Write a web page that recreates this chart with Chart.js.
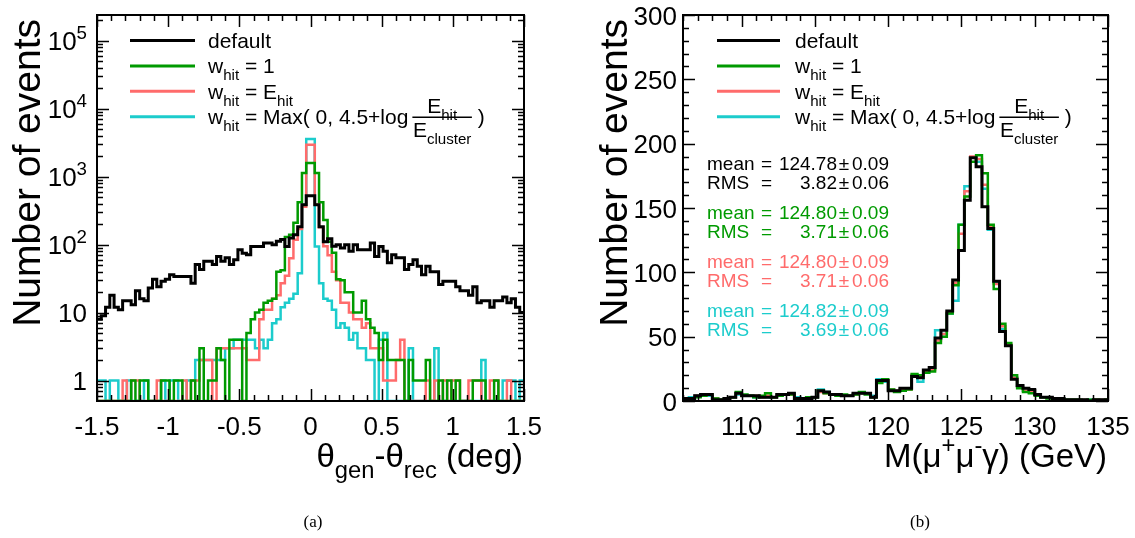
<!DOCTYPE html>
<html>
<head>
<meta charset="utf-8">
<script src="https://cdn.jsdelivr.net/npm/chart.js@4.4.1/dist/chart.umd.min.js"></script>
<style>
  body { margin: 0; background: #fff; }
  #wrap { position: relative; width: 1135px; height: 538px; }
  #wrap canvas { position: absolute; left: 0; top: 0; }
</style>
</head>
<body>
<div id="wrap">
  <canvas id="angle" width="1135" height="538"></canvas>
  <canvas id="mass" width="1135" height="538"></canvas>
</div>
<script>
// ---- panel (a): theta_gen - theta_rec, 100 bins of 0.03 deg from -1.5 ----
const angleLo = -1.5;
const angleBin = 0.03;
const angleDefault = [
  8, 9, 12, 18, 12, 11, 15, 15, 13, 21,
  16, 15, 23, 31, 24, 29, 31, 36, 34, 34,
  34, 34, 27, 51, 43, 57, 57, 51, 67, 57,
  64, 51, 60, 84, 75, 71, 94, 94, 94, 106,
  106, 100, 112, 119, 94, 125, 140, 183, 388, 525,
  525, 388, 183, 110, 122, 95, 100, 89, 100, 80,
  100, 84, 84, 84, 106, 67, 94, 80, 54, 71,
  64, 64, 43, 51, 60, 48, 36, 48, 40, 40,
  26, 29, 29, 29, 24, 21, 21, 18, 24, 14,
  15, 15, 12, 15, 15, 17, 14, 16, 12, 10
];
const angleUnitWeight = [
  0, 0, 0, 0, 0, 0, 0, 0, 1, 0,
  1, 1, 0, 0, 0, 1, 1, 0, 1, 1,
  0, 0, 1, 0, 3, 0, 1, 1, 3, 2,
  0, 4, 4, 4, 0, 5, 8, 10, 11, 14,
  15, 16, 40, 42, 130, 140, 210, 420, 1130, 1590,
  1590, 1130, 420, 230, 110, 76, 31, 30, 20, 20,
  10, 10, 15, 8, 6, 5, 2, 4, 2, 2,
  2, 2, 0, 2, 1, 1, 1, 2, 0, 0,
  1, 0, 1, 0, 1, 0, 0, 0, 1, 1,
  1, 0, 0, 1, 0, 0, 0, 0, 0, 0
];
const angleEnergyWeight = [
  0, 0, 0, 0, 0, 0, 1, 0, 1, 1,
  0, 0, 0, 0, 1, 0, 0, 0, 0, 0,
  1, 0, 1, 1, 2, 2, 2, 0, 3, 3,
  3, 3, 3, 3, 3, 2, 2, 2, 8, 11,
  11, 16, 18, 27, 35, 63, 118, 170, 360, 2960,
  2960, 390, 180, 95, 70, 40, 30, 14, 14, 10,
  8, 8, 6, 7, 3, 3, 3, 1, 1, 1,
  2, 4, 0, 0, 0, 0, 0, 1, 0, 1,
  0, 1, 0, 1, 1, 0, 0, 1, 1, 1,
  0, 0, 1, 1, 0, 0, 1, 0, 0, 0
];
const angleLogWeight = [
  1, 1, 0, 1, 1, 0, 0, 1, 0, 0,
  0, 1, 0, 0, 0, 1, 0, 1, 1, 0,
  0, 1, 1, 2, 2, 2, 2, 2, 2, 2,
  3, 3, 4, 4, 4, 4, 4, 3, 4, 3,
  4, 7, 8, 12, 14, 16, 19, 38, 388, 3585,
  3585, 94, 27, 16, 15, 11, 6, 7, 6, 4,
  5, 3, 3, 2, 2, 0, 4, 5, 0, 0,
  0, 0, 0, 3, 0, 0, 0, 0, 0, 3,
  0, 0, 0, 0, 0, 0, 0, 0, 0, 0,
  2, 0, 0, 0, 0, 1, 1, 1, 0, 1
];
const angleXTicks = [-1.5, -1, -0.5, 0, 0.5, 1, 1.5];
const angleXTickLabels = ['-1.5', '-1', '-0.5', '0', '0.5', '1', '1.5'];
const angleYTicks = [1, 10, 100, 1000, 10000, 100000];
const angleYTickLabels = ['1', '10', '10^{2}', '10^{3}', '10^{4}', '10^{5}'];

// ---- panel (b): M(mu mu gamma), bins of 0.4 GeV from 106 ----
const massLo = 106.0;
const massBin = 0.4;
const massDefault = [
  2, 2, 4, 5, 5, 1, 1, 2, 3, 6,
  4, 4, 4, 3, 3, 3, 5, 5, 6, 2,
  2, 2, 3, 8, 7, 5, 5, 4, 4, 6,
  6, 6, 3, 16, 16, 8, 8, 10, 10, 19,
  18, 24, 26, 49, 55, 70, 94, 117, 156, 189,
  182, 151, 134, 93, 54, 43, 17, 12, 10, 9,
  5, 3, 3, 2, 2, 1, 1, 1, 1, 0,
  1, 1, 1
];
const massUnitWeight = [
  1, 2, 3, 4, 5, 2, 1, 2, 3, 7,
  5, 4, 3, 4, 6, 3, 4, 5, 5, 2,
  2, 3, 3, 8, 6, 5, 4, 5, 4, 5,
  7, 5, 3, 14, 17, 9, 7, 8, 9, 21,
  20, 22, 23, 45, 50, 68, 90, 137, 159, 186,
  191, 177, 137, 87, 60, 45, 20, 10, 7, 6,
  4, 3, 2, 2, 1, 1, 1, 1, 0, 1,
  1, 0, 1
];
const massEnergyWeight = [
  2, 2, 4, 4, 5, 2, 1, 2, 3, 6,
  4, 4, 4, 3, 4, 3, 5, 5, 5, 2,
  2, 2, 3, 7, 6, 5, 5, 4, 4, 5,
  6, 6, 3, 15, 16, 9, 8, 9, 9, 20,
  19, 23, 24, 47, 52, 69, 92, 130, 163, 190,
  188, 168, 136, 91, 58, 44, 18, 11, 8, 7,
  4, 3, 3, 2, 1, 1, 1, 1, 1, 0,
  1, 1, 1
];
const massLogWeight = [
  2, 3, 4, 5, 4, 2, 1, 2, 3, 5,
  4, 4, 3, 3, 3, 3, 5, 5, 6, 3,
  2, 2, 3, 9, 7, 5, 5, 4, 4, 5,
  6, 6, 4, 17, 15, 9, 8, 9, 10, 20,
  15, 22, 25, 55, 52, 68, 78, 137, 167, 189,
  186, 165, 133, 92, 56, 43, 18, 11, 8, 7,
  5, 3, 3, 2, 2, 1, 1, 1, 1, 1,
  0, 1, 1
];
const massXTicks = [110, 115, 120, 125, 130, 135];
const massXTickLabels = ['110', '115', '120', '125', '130', '135'];
const massYTicks = [0, 50, 100, 150, 200, 250, 300];
const massYTickLabels = ['0', '50', '100', '150', '200', '250', '300'];

const statMeans = ['124.78', '124.80', '124.80', '124.82'];
const statMeanErrs = ['0.09', '0.09', '0.09', '0.09'];
const statRms = ['3.82', '3.71', '3.71', '3.69'];
const statRmsErrs = ['0.06', '0.06', '0.06', '0.06'];

const seriesLabels = [
  'default',
  'w_{hit} = 1',
  'w_{hit} = E_{hit}',
  'w_{hit} = Max( 0, 4.5+log [E_{hit}/E_{cluster}] )'
];
const seriesColors = ['#000000', '#009a00', '#ff6b6b', '#1ccccc'];

// ---------------------------------------------------------------
const FAMILY = '"Liberation Sans", Arial, Helvetica, sans-serif';
const fnt = (size) => size + 'px ' + FAMILY;

function parseRich(s) {
  const parts = [];
  let buf = '';
  let i = 0;
  while (i < s.length) {
    if ((s[i] === '_' || s[i] === '^') && s[i + 1] === '{') {
      if (buf) { parts.push([buf, 'n']); buf = ''; }
      const end = s.indexOf('}', i);
      parts.push([s.slice(i + 2, end), s[i] === '_' ? 'sub' : 'sup']);
      i = end + 1;
    } else {
      buf += s[i++];
    }
  }
  if (buf) parts.push([buf, 'n']);
  return parts;
}

function richWidth(ctx, parts, size) {
  let w = 0;
  for (const [t, k] of parts) {
    ctx.font = fnt(k === 'n' ? size : size * 0.72);
    w += ctx.measureText(t).width;
  }
  return w;
}

function drawRich(ctx, s, x, y, size, align) {
  const parts = parseRich(s);
  const w = richWidth(ctx, parts, size);
  if (align === 'right') x -= w;
  else if (align === 'center') x -= w / 2;
  ctx.textAlign = 'left';
  ctx.textBaseline = 'alphabetic';
  for (const [t, k] of parts) {
    const sz = k === 'n' ? size : size * 0.72;
    ctx.font = fnt(sz);
    const dy = k === 'sub' ? size * 0.33 : (k === 'sup' ? -size * 0.42 : 0);
    ctx.fillText(t, x, y + dy);
    x += ctx.measureText(t).width;
  }
  return x;
}

function histPoints(lo, width, counts, floor) {
  const pts = counts.map((c, i) => ({x: lo + i * width, y: Math.max(c, floor)}));
  pts.push({x: lo + counts.length * width, y: Math.max(counts[counts.length - 1], floor)});
  return pts;
}

function drawLegendRow(ctx, label, color, lineX0, lineX1, textX, rowY) {
  ctx.strokeStyle = color;
  ctx.lineWidth = 3;
  ctx.beginPath();
  ctx.moveTo(lineX0, rowY);
  ctx.lineTo(lineX1, rowY);
  ctx.stroke();
  ctx.fillStyle = '#000';
  const base = rowY + 7.5;
  const m = label.match(/^(.*)\[(.*?)\/(.*?)\](.*)$/);
  if (!m) {
    drawRich(ctx, label, textX, base, 21, 'left');
    return;
  }
  let x = drawRich(ctx, m[1].trimEnd(), textX, base, 21, 'left') + 4;
  const numW = richWidth(ctx, parseRich(m[2]), 21);
  const denW = richWidth(ctx, parseRich(m[3]), 21);
  const barW = Math.max(numW, denW) + 1;
  const barY = rowY + 0.5;
  ctx.strokeStyle = '#000';
  ctx.lineWidth = 1.5;
  ctx.beginPath();
  ctx.moveTo(x, barY);
  ctx.lineTo(x + barW, barY);
  ctx.stroke();
  drawRich(ctx, m[2], x + barW / 2, barY - 4.5, 21, 'center');
  drawRich(ctx, m[3], x + barW / 2, barY + 20, 21, 'center');
  drawRich(ctx, m[4], x + barW, base, 21, 'left');
}

function panelPlugin(cfg) {
  return {
    id: 'panel' + cfg.id,
    afterDraw(chart) {
      const {ctx, chartArea: a, scales} = chart;
      const xs = scales.x, ys = scales.y;
      ctx.save();

      // ticks on all four sides, pointing inwards
      ctx.strokeStyle = '#000';
      ctx.lineWidth = 1.5;
      ctx.beginPath();
      const xTick = (v, len) => {
        const px = Math.round(xs.getPixelForValue(v)) + 0.5;
        ctx.moveTo(px, a.bottom); ctx.lineTo(px, a.bottom - len);
        ctx.moveTo(px, a.top); ctx.lineTo(px, a.top + len);
      };
      const yTick = (v, len) => {
        const py = Math.round(ys.getPixelForValue(v)) + 0.5;
        ctx.moveTo(a.left, py); ctx.lineTo(a.left + len, py);
        ctx.moveTo(a.right, py); ctx.lineTo(a.right - len, py);
      };
      for (let v = cfg.xMinorFrom; v <= cfg.xMax + 1e-9; v += cfg.xMinorStep) {
        if (v >= cfg.xMin - 1e-9) xTick(v, 6);
      }
      cfg.xTicks.forEach(v => xTick(v, 12));
      if (cfg.logY) {
        for (let e = -1; e <= 5; e++) {
          for (let k = 2; k <= 9; k++) {
            const v = k * Math.pow(10, e);
            if (v > cfg.yMin && v < cfg.yMax) yTick(v, 6);
          }
        }
      } else {
        for (let v = cfg.yMin; v <= cfg.yMax; v += cfg.yMinorStep) yTick(v, 6);
      }
      cfg.yTicks.forEach(v => yTick(v, 12));
      ctx.stroke();

      // frame
      ctx.lineWidth = 2;
      ctx.strokeRect(a.left, a.top, a.right - a.left, a.bottom - a.top);

      // tick labels
      ctx.fillStyle = '#000';
      cfg.xTicks.forEach((v, i) => {
        drawRich(ctx, cfg.xLabels[i], xs.getPixelForValue(v), 435, 26, 'center');
      });
      cfg.yTicks.forEach((v, i) => {
        drawRich(ctx, cfg.yLabels[i], a.left - cfg.yLabelGap, ys.getPixelForValue(v) + 9.5, 26, 'right');
      });

      // axis titles
      drawRich(ctx, cfg.xTitle, a.right - 1, 467, 33, 'right');
      ctx.save();
      ctx.translate(cfg.yTitleX, a.top + 4);
      ctx.rotate(-Math.PI / 2);
      drawRich(ctx, 'Number of events', 0, 0, 39, 'right');
      ctx.restore();

      // legend
      seriesLabels.forEach((lab, i) => {
        drawLegendRow(ctx, lab, seriesColors[i], cfg.legendX0, cfg.legendX1,
          cfg.legendTextX, 40.5 + 25.4 * i);
      });

      // statistics block
      if (cfg.stats) {
        statMeans.forEach((mean, i) => {
          ctx.fillStyle = seriesColors[i];
          const rows = [['mean', mean, statMeanErrs[i]], ['RMS', statRms[i], statRmsErrs[i]]];
          rows.forEach(([name, val, err], r) => {
            const y = 170 + 49 * i + 18.5 * r;
            ctx.font = fnt(19);
            ctx.textAlign = 'left';
            ctx.fillText(name, 707, y);
            ctx.fillText('=', 761, y);
            ctx.textAlign = 'right';
            ctx.fillText(val, 837, y);
            ctx.textAlign = 'center';
            ctx.fillText('\u00b1', 844, y);
            ctx.textAlign = 'left';
            ctx.fillText(err, 852, y);
          });
        });
      }

      // caption
      ctx.fillStyle = '#000';
      ctx.font = '17px "Liberation Serif", "Times New Roman", serif';
      ctx.textAlign = 'center';
      ctx.fillText(cfg.caption, cfg.captionX, 527);
      ctx.restore();
    }
  };
}

function makePanel(canvasId, cfg, series) {
  return new Chart(document.getElementById(canvasId), {
    type: 'line',
    data: {
      datasets: series.map((counts, i) => ({
        label: seriesLabels[i],
        data: histPoints(cfg.lo, cfg.bin, counts, cfg.floor),
        borderColor: seriesColors[i],
        borderWidth: i === 0 ? 3 : 2.5,
        pointRadius: 0,
        stepped: 'before',
        fill: false,
        borderJoinStyle: 'miter',
      })),
    },
    options: {
      responsive: false,
      animation: false,
      devicePixelRatio: 1,
      events: [],
      layout: {padding: cfg.padding},
      plugins: {legend: {display: false}, tooltip: {enabled: false}},
      scales: {
        x: {type: 'linear', display: false, min: cfg.xMin, max: cfg.xMax},
        y: {type: cfg.logY ? 'logarithmic' : 'linear', display: false, min: cfg.yMin, max: cfg.yMax},
      },
    },
    plugins: [panelPlugin(cfg)],
  });
}

makePanel('angle', {
  id: 'a', lo: angleLo, bin: angleBin, floor: 0.5,
  padding: {left: 97, right: 611, top: 15, bottom: 137},
  xMin: -1.5, xMax: 1.5, xMinorFrom: -1.5, xMinorStep: 0.1,
  yMin: 0.5, yMax: 2.4e5, logY: true,
  xTicks: angleXTicks, xLabels: angleXTickLabels,
  yTicks: angleYTicks, yLabels: angleYTickLabels, yLabelGap: 10,
  xTitle: '\u03b8_{gen}-\u03b8_{rec} (deg)', yTitleX: 40,
  legendX0: 130, legendX1: 195, legendTextX: 208,
  stats: false, caption: '(a)', captionX: 313,
}, [angleDefault, angleUnitWeight, angleEnergyWeight, angleLogWeight]);

makePanel('mass', {
  id: 'b', lo: massLo, bin: massBin, floor: 0,
  padding: {left: 683, right: 27, top: 15, bottom: 137},
  xMin: 106, xMax: 135, xMinorFrom: 106, xMinorStep: 1,
  yMin: 0, yMax: 300, yMinorStep: 10, logY: false,
  xTicks: massXTicks, xLabels: massXTickLabels,
  yTicks: massYTicks, yLabels: massYTickLabels, yLabelGap: 6,
  xTitle: 'M(\u03bc^{+}\u03bc^{-}\u03b3) (GeV)', yTitleX: 627,
  legendX0: 717, legendX1: 780, legendTextX: 795,
  stats: true, caption: '(b)', captionX: 920,
}, [massDefault, massUnitWeight, massEnergyWeight, massLogWeight]);
</script>
</body>
</html>
